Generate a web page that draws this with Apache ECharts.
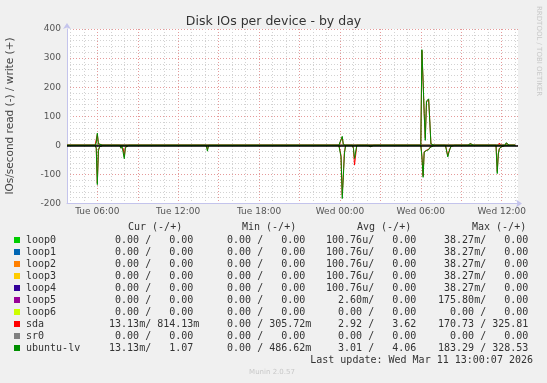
<!DOCTYPE html>
<html><head><meta charset="utf-8">
<script src="https://cdn.jsdelivr.net/npm/echarts@6/dist/echarts.min.js"></script>
<style>html,body{margin:0;padding:0;background:#f0f0f0;}#c{width:547px;height:383px;}</style>
</head><body><div id="c"></div>
<script>
// time in hours since Tue 00:00
const times = [3.75,
  5.83,5.92,6.00,6.08,6.17,6.42,
  7.67,7.75,7.83,7.92,8.00,8.08,8.33,
  14.08,14.17,14.25,
  23.92,24.00,24.08,24.17,24.25,24.33,24.42,
  24.92,25.00,25.08,25.17,25.25,
  26.08,26.25,26.50,
  30.00,30.08,30.17,30.25,30.33,30.42,30.50,30.58,30.67,30.75,31.00,
  31.83,31.92,32.00,32.08,32.17,32.25,32.50,
  33.50,33.67,33.92,
  35.58,35.67,35.75,35.83,35.92,36.00,36.25,36.33,36.58,
  37.00];
// IOs/second; reads are drawn below zero
const lvWrite = [0, 0,8,42,5,0,0, 0,0,0,0,0,2,0, 0,0,0, 0,5,20,31,3,0,0, 0,0,0,0,0, 0,0,0,
  0,329,220,110,17,152,155,160,80,5,0, 0,0,0,0,0,2,0, 0,6,0, 0,0,0,3,0,0,0,9,0, 0];
const lvRead = [0, 0,10,135,15,5,0, 0,10,3,8,46,8,0, 0,20,0, 0,5,40,183,110,30,0, 0,10,45,48,0, 0,5,0,
  0,40,110,23,20,18,17,15,8,3,0, 0,5,40,25,12,3,0, 0,0,0, 0,97,30,11,8,5,0,0,0, 0];
const sdaWrite = [0, 0,6,38,6,0,0, 0,0,0,0,0,3,0, 0,0,0, 0,6,18,28,3,0,0, 0,0,0,0,0, 0,0,0,
  0,326,215,108,25,148,152,158,78,5,0, 0,0,0,0,0,6,0, 0,6,0, 0,0,0,8,0,0,0,7,0, 0];
const sdaRead = [0, 0,8,130,20,5,0, 0,8,3,10,40,6,0, 0,15,0, 0,5,35,170,100,25,0, 0,10,68,66,0, 0,4,0,
  0,35,105,22,20,17,16,14,8,3,0, 0,5,36,22,10,3,0, 0,0,0, 0,90,28,10,7,5,0,0,0, 0];
const flatTimes = [3.75, 37.00];
const flatValues = [0, 0];

const xMin = 3.75, xMax = 37.21;
const hourTicks = [4,5,6,7,8,9,10,11,12,13,14,15,16,17,18,19,20,21,22,23,24,25,26,27,28,29,30,31,32,33,34,35,36,37];
const majorTicks = [6,9,12,15,18,21,24,27,30,33,36];
const labelHours = [6,12,18,24,30,36];
const labelTexts = ['Tue 06:00','Tue 12:00','Tue 18:00','Wed 00:00','Wed 06:00','Wed 12:00'];

const names = ['loop0','loop1','loop2','loop3','loop4','loop5','loop6','sda','sr0','ubuntu-lv'];
const colors = ['#00CC00','#0066B3','#FF8000','#FFCC00','#330099','#990099','#CCFF00','#FF0000','#808080','#008F00'];
const curR = ['0.00','0.00','0.00','0.00','0.00','0.00','0.00','13.13m','0.00','13.13m'];
const curW = ['0.00','0.00','0.00','0.00','0.00','0.00','0.00','814.13m','0.00','1.07'];
const minR = ['0.00','0.00','0.00','0.00','0.00','0.00','0.00','0.00','0.00','0.00'];
const minW = ['0.00','0.00','0.00','0.00','0.00','0.00','0.00','305.72m','0.00','486.62m'];
const avgR = ['100.76u','100.76u','100.76u','100.76u','100.76u','2.60m','0.00','2.92','0.00','3.01'];
const avgW = ['0.00','0.00','0.00','0.00','0.00','0.00','0.00','3.62','0.00','4.06'];
const maxR = ['38.27m','38.27m','38.27m','38.27m','38.27m','175.80m','0.00','170.73','0.00','183.29'];
const maxW = ['0.00','0.00','0.00','0.00','0.00','0.00','0.00','325.81','0.00','328.53'];
const headers = ['Cur (-/+)','Min (-/+)','Avg (-/+)','Max (-/+)'];
const lastUpdate = 'Last update: Wed Mar 11 13:00:07 2026';

function fmt(s){const m=s.match(/^([\d.]+)([a-zA-Z]?)$/);return m[1].padStart(7,' ')+(m[2]||' ');}
function field(r,w){return fmt(r)+'/'+fmt(w);}

const chart = echarts.init(document.getElementById('c'));
const mono = "'DejaVu Sans Mono', monospace";
const sans = "'DejaVu Sans', sans-serif";
const textCol = '#333';

function lineSeries(name, t, v, color, sign){
  return {type:'line', name, data:t.map((x,i)=>[x, v[i] === 0 ? 0 : sign*v[i]]), showSymbol:false, symbol:'none',
    lineStyle:{color, width:1}, itemStyle:{color}, animation:false, silent:true};
}
const series = [];
for (let i=0;i<7;i++){
  series.push(lineSeries(names[i]+'-r', flatTimes, flatValues, colors[i], -1));
  series.push(lineSeries(names[i]+'-w', flatTimes, flatValues, colors[i], 1));
}
series.push(lineSeries('sda-r', times, sdaRead, colors[7], -1));
series.push(lineSeries('sda-w', times, sdaWrite, colors[7], 1));
series.push(lineSeries('sr0-r', flatTimes, flatValues, colors[8], -1));
series.push(lineSeries('sr0-w', flatTimes, flatValues, colors[8], 1));
series.push(lineSeries('lv-r', times, lvRead, colors[9], -1));
const lvw = lineSeries('lv-w', times, lvWrite, colors[9], 1);
lvw.markLine = {silent:true, symbol:['none','none'], label:{show:false}, animation:false,
  lineStyle:{color:'#000', width:1.5, type:'solid'}, data:[{yAxis:0}]};
series.push(lvw);

const graphic = [];
graphic.push({type:'text', x:10, y:116, rotation:Math.PI/2, style:{text:'IOs/second read (-) / write (+)', font:'10.5px '+sans, fill:'#444', align:'center', verticalAlign:'middle'}});
graphic.push({type:'text', x:539, y:6, rotation:-Math.PI/2, style:{text:'RRDTOOL / TOBI OETIKER', font:'7px '+sans, fill:'#c8c8c8', align:'left', verticalAlign:'middle'}});
const headX = [128, 242, 357, 472];
const fieldX = [97, 209, 320, 432];
headers.forEach((h,i)=>graphic.push({type:'text', x:headX[i], y:227.5, style:{text:h, font:'10px '+mono, fill:textCol, align:'left', verticalAlign:'middle'}}));
names.forEach((n,i)=>{
  const y = 240 + 12*i;
  graphic.push({type:'rect', shape:{x:14, y:y-3, width:6, height:6}, style:{fill:colors[i]}});
  graphic.push({type:'text', x:26, y, style:{text:n, font:'10px '+mono, fill:textCol, align:'left', verticalAlign:'middle'}});
  const f = [field(curR[i],curW[i]), field(minR[i],minW[i]), field(avgR[i],avgW[i]), field(maxR[i],maxW[i])];
  f.forEach((s,k)=>graphic.push({type:'text', x:fieldX[k], y, style:{text:s, font:'10px '+mono, fill:textCol, align:'left', verticalAlign:'middle'}}));
});
graphic.push({type:'text', x:533, y:360, style:{text:lastUpdate, font:'10px '+mono, fill:textCol, align:'right', verticalAlign:'middle'}});
graphic.push({type:'text', x:272, y:372, style:{text:'Munin 2.0.57', font:'7px '+sans, fill:'#c8c8c8', align:'center', verticalAlign:'middle'}});

const gridLineGray = {color:'#d2d2d2', width:1, type:[1,2]};
const gridLineRed = {color:'#e59a9a', width:1, type:[1,2]};

chart.setOption({
  animation:false,
  backgroundColor:'#f0f0f0',
  title:{text:'Disk IOs per device - by day', left:'center', top:10, textStyle:{fontSize:12.5, fontWeight:'normal', color:'#333', fontFamily:sans}},
  grid:{left:67, right:29, top:29, bottom:179.5, show:true, backgroundColor:'#fff', borderWidth:0},
  xAxis:[{
    type:'value', min:xMin, max:xMax, position:'bottom',
    axisLine:{show:true, onZero:false, lineStyle:{color:'#c4c4ec'}, symbol:['none','arrow'], symbolSize:[6,6], symbolOffset:[0,4]},
    axisTick:{show:false, customValues:hourTicks},
    splitLine:{show:true, lineStyle:gridLineGray},
    axisLabel:{customValues:labelHours, formatter:(v)=>labelTexts[labelHours.indexOf(Math.round(v))]||'', color:'#555', fontSize:9, fontFamily:sans, margin:4}
  },{
    type:'value', min:xMin, max:xMax, position:'bottom',
    axisLine:{show:false, onZero:false}, axisLabel:{show:false},
    axisTick:{show:false, customValues:majorTicks},
    splitLine:{show:true, lineStyle:gridLineRed}
  }],
  yAxis:{
    type:'value', min:-200, max:400, interval:100,
    axisLine:{show:true, lineStyle:{color:'#c4c4ec'}, symbol:['none','arrow'], symbolSize:[6,6], symbolOffset:[0,6]},
    axisTick:{show:false},
    axisLabel:{color:'#555', fontSize:9, fontFamily:sans, margin:6},
    splitLine:{show:true, lineStyle:gridLineRed},
    minorTick:{show:false, splitNumber:5},
    minorSplitLine:{show:true, lineStyle:gridLineGray}
  },
  series,
  graphic
});
</script></body></html>
